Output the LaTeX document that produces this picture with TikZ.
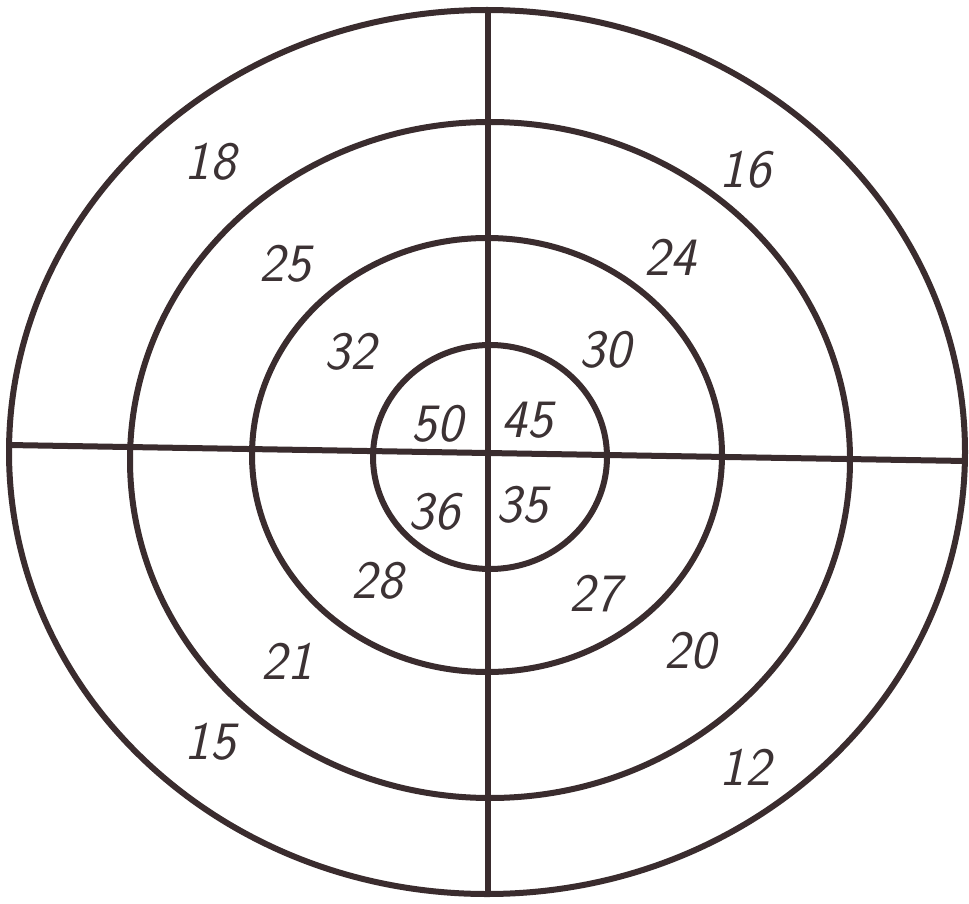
\documentclass[tikz,border=0pt]{standalone}
\usepackage{fontspec}
\begin{document}
\begin{tikzpicture}[x=1pt,y=-1pt,
  ring/.style={draw={rgb,255:red,58;green,44;blue,46},line width=6pt},
  num/.style={font=\fontsize{54}{54}\selectfont\sffamily\itshape,text={rgb,255:red,60;green,50;blue,52},inner sep=0pt}]
\fill[white] (0,0) rectangle (969,904);
\useasboundingbox (0,0) rectangle (969,904);
\draw[ring] (487,452) ellipse [x radius=478pt, y radius=442pt];
\draw[ring] (490,460) ellipse [x radius=360pt, y radius=338pt];
\draw[ring] (487,455) ellipse [x radius=235pt, y radius=217pt];
\draw[ring] (490,457) ellipse [x radius=117pt, y radius=112pt];
\coordinate (top) at (488,10);
\coordinate (bot) at (488,893);
\coordinate (lft) at (8,445);
\coordinate (rgt) at (966,461);
\draw[ring] (top) -- (bot);
\draw[ring] (lft) -- (rgt);
\node[num] (n18) at (210,162) {18};
\node[num] (n16) at (745,170) {16};
\node[num] (n25) at (285,264) {25};
\node[num] (n24) at (670,257) {24};
\node[num] (n32) at (350,352) {32};
\node[num] (n30) at (605,350) {30};
\node[num] (n50) at (437,424) {50};
\node[num] (n45) at (527,420) {45};
\node[num] (n36) at (434,512) {36};
\node[num] (n35) at (522,505) {35};
\node[num] (n28) at (377,581) {28};
\node[num] (n27) at (595,594) {27};
\node[num] (n21) at (287,661) {21};
\node[num] (n20) at (690,651) {20};
\node[num] (n15) at (210,742) {15};
\node[num] (n12) at (745,767) {12};
\end{tikzpicture}
\end{document}
